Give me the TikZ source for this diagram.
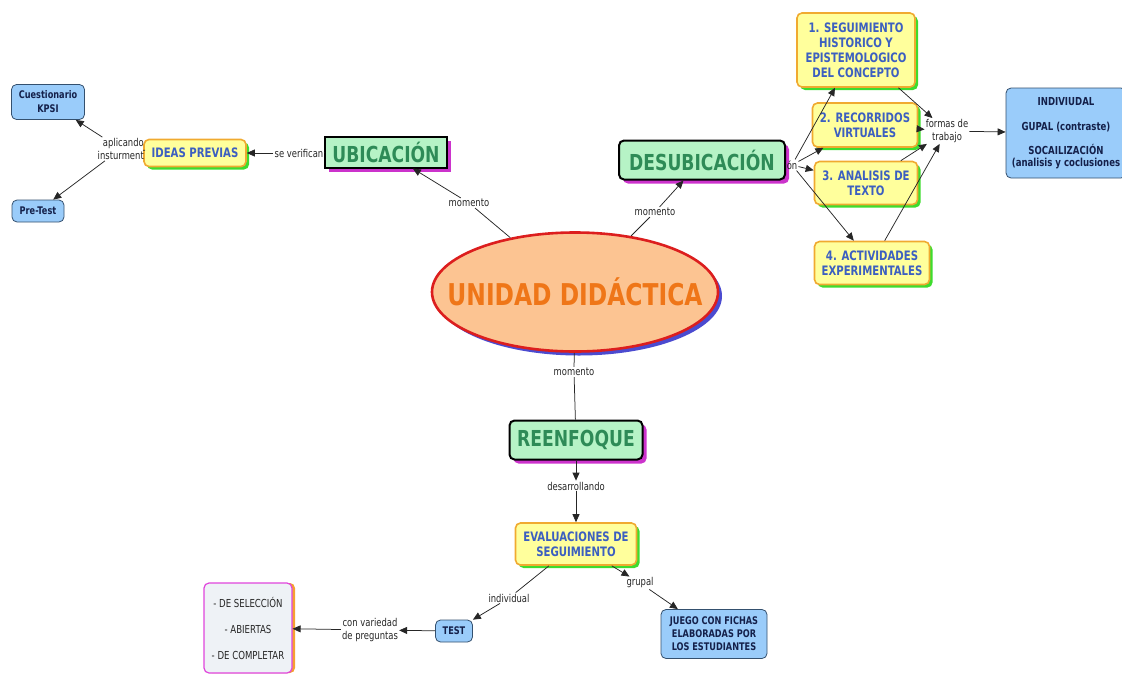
\documentclass[tikz,border=0pt]{standalone}
\usepackage{fontspec}
\setmainfont{DejaVu Sans}[FakeStretch=0.78]
\usetikzlibrary{arrows.meta,shadows,shapes.geometric}

\definecolor{yfill}{HTML}{FFFF9C}
\definecolor{ybord}{HTML}{F0AA30}
\definecolor{ytext}{HTML}{3C5FC0}
\definecolor{yshad}{HTML}{3EDC2E}
\definecolor{gfill}{HTML}{B6F3C6}
\definecolor{gtext}{HTML}{2E8B57}
\definecolor{gshad}{HTML}{CC33CC}
\definecolor{bfill}{HTML}{9ACCFA}
\definecolor{bbord}{HTML}{34506E}
\definecolor{btext}{HTML}{14204A}
\definecolor{efill}{HTML}{FCC492}
\definecolor{ebord}{HTML}{DC1E1E}
\definecolor{etext}{HTML}{EF7618}
\definecolor{eshad}{HTML}{4B4BD0}
\definecolor{lfill}{HTML}{EEF2F6}
\definecolor{lbord}{HTML}{E045DC}
\definecolor{lshad}{HTML}{F5A030}
\definecolor{linkgray}{HTML}{262626}

\begin{document}
\begin{tikzpicture}[x=1pt,y=-1pt,
  link/.style={draw=linkgray,line width=0.75pt},
  arr/.style={link,-{Triangle[length=8pt,width=7pt]}},
  lbl/.style={font=\fontsize{10.8}{13}\selectfont,text=linkgray,inner sep=1pt,align=center},
  yellowbox/.style={draw=ybord,line width=1.6pt,fill=yfill,rounded corners=5pt,
    text=ytext,font=\fontsize{13}{15}\selectfont\bfseries,align=center,inner sep=1pt,
    drop shadow={shadow xshift=3pt,shadow yshift=-3pt,fill=yshad,opacity=1}},
  greenbox/.style={draw=black,line width=2pt,fill=gfill,rounded corners=5pt,
    text=gtext,font=\fontsize{22}{26}\selectfont\bfseries,inner sep=1pt,
    drop shadow={shadow xshift=4pt,shadow yshift=-4pt,fill=gshad,opacity=1}},
  bluebox/.style={draw=bbord,line width=0.8pt,fill=bfill,rounded corners=5pt,
    text=btext,font=\fontsize{10.5}{14}\selectfont\bfseries,align=center,inner sep=1pt}]
  \useasboundingbox (0,0) rectangle (1122,678);

  % concepts
  \node[ellipse,draw=ebord,line width=2.6pt,fill=efill,inner sep=0pt,
    minimum width=286,minimum height=119,text=etext,
    font=\fontsize{30}{34}\selectfont\bfseries,
    drop shadow={shadow xshift=4pt,shadow yshift=-4pt,fill=eshad,opacity=1}]
    (unidad) at (575,292) {\makebox[0pt]{UNIDAD DIDÁCTICA}};
  \node[greenbox,rounded corners=0pt,minimum width=122,minimum height=31] (ubic) at (386,152) {UBICACIÓN};
  \node[greenbox,minimum width=166,minimum height=39] (desub) at (702,160) {DESUBICACIÓN};
  \node[greenbox,minimum width=133,minimum height=39] (reenf) at (576,440) {REENFOQUE};
  \node[yellowbox,minimum width=102,minimum height=27] (ideas) at (195,153) {IDEAS PREVIAS};
  \node[yellowbox,minimum width=121,minimum height=42] (eval) at (576,544) {EVALUACIONES DE\\SEGUIMIENTO};
  \node[yellowbox,minimum width=118,minimum height=74] (hist) at (856,50)
    {1. SEGUIMIENTO\\HISTORICO Y\\EPISTEMOLOGICO\\DEL CONCEPTO};
  \node[yellowbox,minimum width=105,minimum height=44] (recor) at (865,125) {2. RECORRIDOS\\VIRTUALES};
  \node[yellowbox,minimum width=103,minimum height=43] (texto) at (866,183) {3. ANALISIS DE\\TEXTO};
  \node[yellowbox,minimum width=115,minimum height=43] (activ) at (872,263) {4. ACTIVIDADES\\EXPERIMENTALES};
  \node[bluebox,minimum width=73,minimum height=35] (kpsi) at (48,102) {Cuestionario\\KPSI};
  \node[bluebox,minimum width=52,minimum height=22] (pretest) at (38,211) {Pre-Test};
  \node[bluebox,minimum width=37,minimum height=22] (test) at (454,631) {TEST};
  \node[bluebox,minimum width=106,minimum height=49,font=\fontsize{10.5}{13}\selectfont\bfseries]
    (juego) at (714,634) {JUEGO CON FICHAS\\ELABORADAS POR\\LOS ESTUDIANTES};
  \node[bluebox,minimum width=120,minimum height=90,font=\fontsize{11}{12.5}\selectfont\bfseries]
    (modos) at (1066,133) {INDIVIUDAL\\[13pt]GUPAL (contraste)\\[11pt]SOCAILIZACIÓN\\(analisis y coclusiones};
  \node[draw=lbord,line width=1.2pt,fill=lfill,rounded corners=5pt,text=linkgray,
    font=\fontsize{11}{13}\selectfont,align=center,minimum width=88,minimum height=90,inner sep=1pt,
    drop shadow={shadow xshift=3pt,shadow yshift=0pt,fill=lshad,opacity=1}]
    (lista) at (248,628) {- DE SELECCIÓN\\[13pt]- ABIERTAS\\[13pt]- DE COMPLETAR};

  % linking phrases
  \node[lbl] (lmom1) at (469,203) {momento};
  \node[lbl] (lmom2) at (655,212) {momento};
  \node[lbl] (lmom3) at (574,372) {momento};
  \node[lbl] (lver) at (299,153) {se verifican};
  \node[lbl,align=right,anchor=east] (lapl) at (145,149) {aplicando\\insturment};
  \node[lbl] (lon) at (792,165) {ón};
  \node[lbl] (lform) at (947,131) {formas de\\trabajo};
  \node[lbl] (ldes) at (576,486) {desarrollando};
  \node[lbl] (lind) at (509,598) {individual};
  \node[lbl] (lgru) at (640,583) {grupal};
  \node[lbl] (lvar) at (370,630) {con variedad\\de preguntas};

  % connectors
  \draw[link] (unidad) -- (lmom1);
  \draw[arr] (lmom1) -- (ubic);
  \draw[link] (unidad) -- (lmom2);
  \draw[arr] (lmom2) -- (desub);
  \draw[link] (unidad) -- (lmom3);
  \draw[link] (lmom3) -- (reenf);
  \draw[link] (ubic) -- (lver);
  \draw[arr] (lver) -- (ideas);
  \draw[link] (ideas) -- (lapl);
  \draw[arr] (lapl) -- (kpsi);
  \draw[arr] (lapl) -- (pretest);
  \draw[link] (desub) -- (lon);
  \draw[arr] (lon) -- (hist);
  \draw[arr] (lon) -- (recor);
  \draw[arr] (lon) -- (texto);
  \draw[arr] (lon) -- (activ);
  \draw[arr] (hist) -- (lform);
  \draw[arr] (recor) -- (lform);
  \draw[arr] (texto) -- (lform);
  \draw[arr] (activ) -- (lform);
  \draw[arr] (lform) -- (modos);
  \draw[arr] (reenf) -- (ldes);
  \draw[arr] (ldes) -- (eval);
  \draw[link] (eval) -- (lind);
  \draw[arr] (lind) -- (test);
  \draw[arr] (eval) -- (lgru);
  \draw[arr] (lgru) -- (juego);
  \draw[arr] (test) -- (lvar);
  \draw[arr] (lvar) -- (lista);
\end{tikzpicture}
\end{document}
